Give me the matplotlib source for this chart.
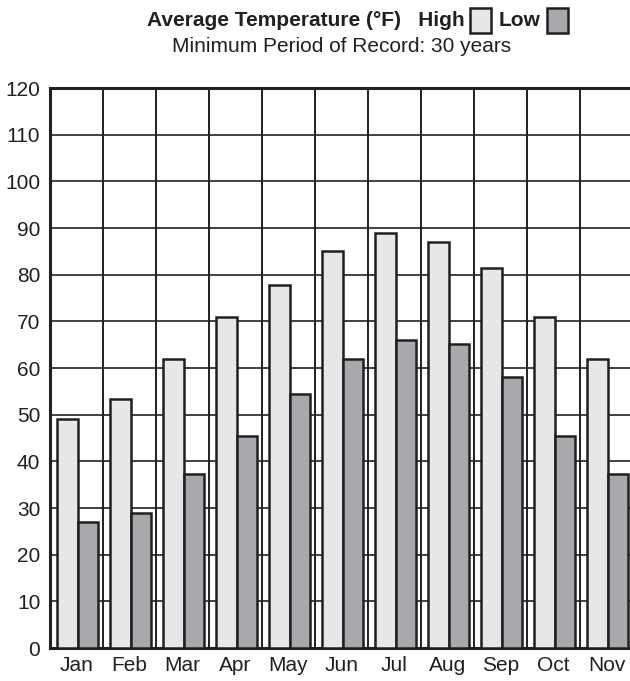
import numpy as np
import matplotlib.pyplot as plt
from matplotlib.patches import Rectangle

plt.rcParams['font.family'] = ['Liberation Sans', 'DejaVu Sans']

months = ['Jan', 'Feb', 'Mar', 'Apr', 'May', 'Jun', 'Jul', 'Aug', 'Sep', 'Oct', 'Nov']
high = [49, 53.4, 62, 71, 77.8, 85, 89, 87, 81.4, 71, 62]
low = [27, 29, 37.3, 45.4, 54.4, 61.9, 66, 65.1, 58.1, 45.4, 37.3]
yticks = list(range(0, 121, 10))

c_high = '#e6e7e8'
c_low = '#a7a9ac'
ink = '#231f20'

W, H = 630, 681
fig = plt.figure(figsize=(W / 100, H / 100), dpi=100)

# axes: left 50px, 53px per month, runs off the right edge
ax = fig.add_axes([50 / W, 33 / H, 12 * 53 / W, 560 / H])
x = np.arange(len(months))
ax.bar(x + 0.13, high, width=0.40, align='edge', color=c_high,
       edgecolor=ink, linewidth=1.8, zorder=3)
ax.bar(x + 0.53, low, width=0.38, align='edge', color=c_low,
       edgecolor=ink, linewidth=1.8, zorder=3)

ax.set_xlim(0, 12)
ax.set_ylim(0, 120)
ax.set_yticks(yticks)
ax.set_yticklabels([str(v) for v in yticks], fontsize=15, color=ink)
ax.set_xticks(x + 0.5)
ax.set_xticklabels(months, fontsize=15, color=ink)
ax.tick_params(axis='both', length=0, pad=6)
ax.tick_params(axis='y', pad=7)

# grid: horizontal at every 10, vertical between months
for v in yticks:
    ax.axhline(v, color=ink, linewidth=1.2, zorder=1)
for i in range(1, 12):
    ax.axvline(i, color=ink, linewidth=1.4, zorder=1)

for s in ['left', 'top', 'bottom']:
    ax.spines[s].set_linewidth(2.2)
    ax.spines[s].set_color(ink)
ax.spines['right'].set_visible(False)

# heading with inline legend boxes
fig.text(465 / W, 1 - 21 / H, 'Average Temperature (°F)   High', ha='right', va='center',
         fontsize=15, fontweight='bold', color=ink)
fig.text(499 / W, 1 - 21 / H, 'Low', ha='left', va='center',
         fontsize=15, fontweight='bold', color=ink)
fig.patches.append(Rectangle((470 / W, 1 - 33 / H), 21 / W, 25 / H, transform=fig.transFigure,
                             facecolor=c_high, edgecolor=ink, linewidth=1.8))
fig.patches.append(Rectangle((547 / W, 1 - 33 / H), 21 / W, 25 / H, transform=fig.transFigure,
                             facecolor=c_low, edgecolor=ink, linewidth=1.8))
fig.text(342 / W, 1 - 46 / H, 'Minimum Period of Record: 30 years', ha='center', va='center',
         fontsize=15, color=ink)

fig.savefig('out.png', dpi=100)
